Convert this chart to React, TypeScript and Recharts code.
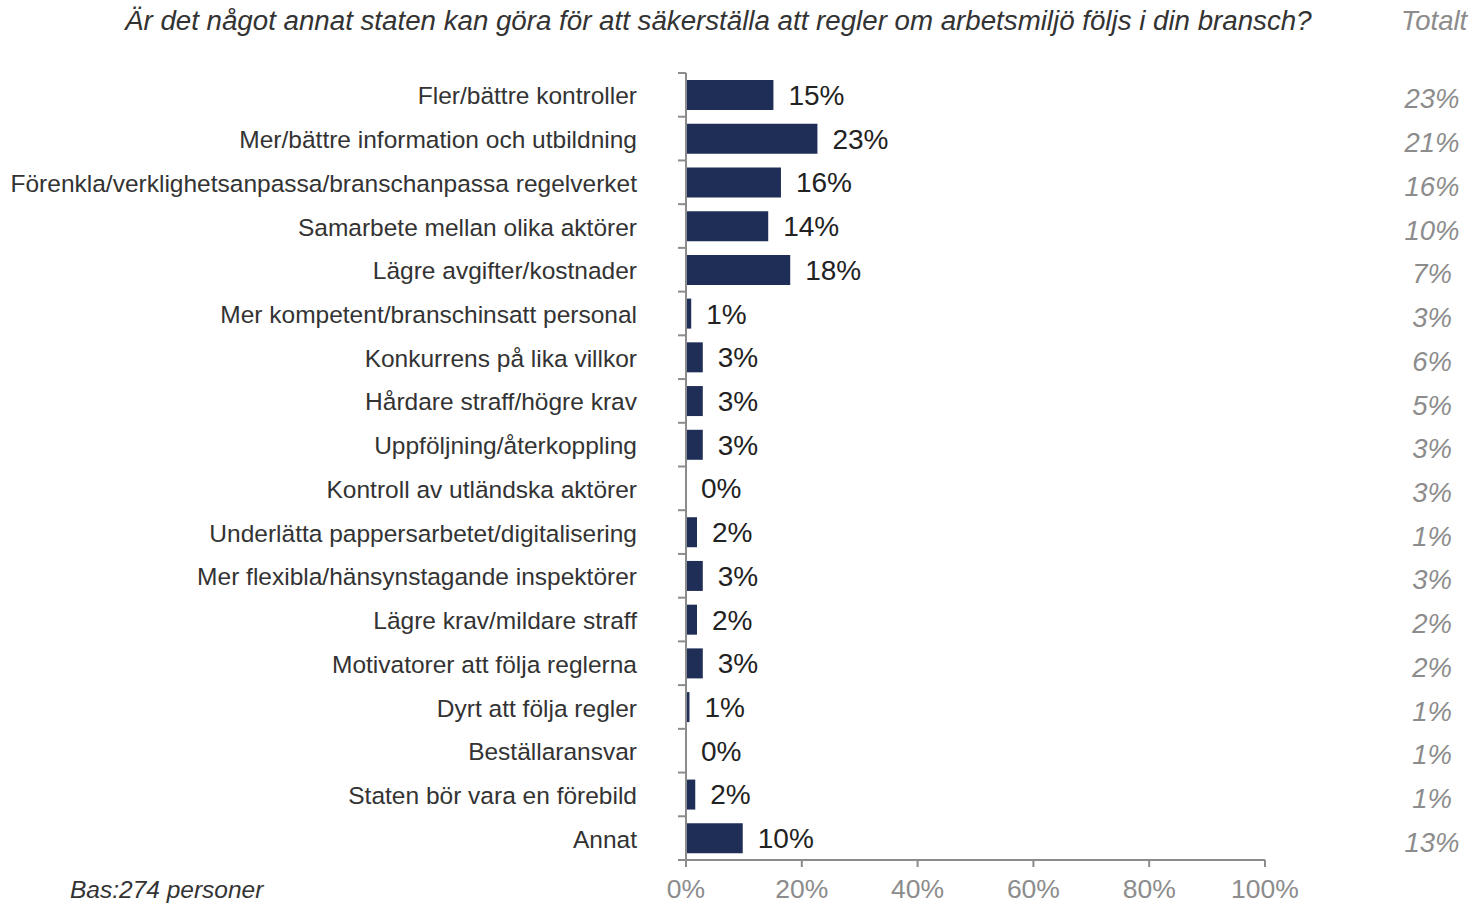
import React from 'react';
import { BarChart, Bar, XAxis, YAxis, LabelList } from 'recharts';

const categories = [
  'Fler/bättre kontroller',
  'Mer/bättre information och utbildning',
  'Förenkla/verklighetsanpassa/branschanpassa regelverket',
  'Samarbete mellan olika aktörer',
  'Lägre avgifter/kostnader',
  'Mer kompetent/branschinsatt personal',
  'Konkurrens på lika villkor',
  'Hårdare straff/högre krav',
  'Uppföljning/återkoppling',
  'Kontroll av utländska aktörer',
  'Underlätta pappersarbetet/digitalisering',
  'Mer flexibla/hänsynstagande inspektörer',
  'Lägre krav/mildare straff',
  'Motivatorer att följa reglerna',
  'Dyrt att följa regler',
  'Beställaransvar',
  'Staten bör vara en förebild',
  'Annat',
];

const values = [15.1, 22.7, 16.4, 14.2, 18.0, 0.9, 2.9, 2.9, 2.9, 0, 1.9, 2.9, 1.9, 2.9, 0.6, 0, 1.6, 9.8];

const totals = [23, 21, 16, 10, 7, 3, 6, 5, 3, 3, 1, 3, 2, 2, 1, 1, 1, 13];

const xTicks = [0, 20, 40, 60, 80, 100];

const W = 1484;
const H = 905;
const TOP = 73;
const BOTTOM = 45;
const band = (H - TOP - BOTTOM) / categories.length;
const FONT = '"Liberation Sans", Arial, sans-serif';

const data = categories.map((name, i) => ({
  name,
  value: values[i],
  label: `${Math.round(values[i])}%`,
  total: totals[i],
}));

function CategoryTick(props: any) {
  const { x, y, payload, index } = props;
  const top = y - band / 2;
  const bottom = y + band / 2;
  return (
    <g>
      <line x1={x - 8} x2={x} y1={top} y2={top} stroke="#8c8c8c" strokeWidth={2} />
      {index === categories.length - 1 && (
        <line x1={x - 8} x2={x} y1={bottom} y2={bottom} stroke="#8c8c8c" strokeWidth={2} />
      )}
      <text x={x - 49} y={y + 1} dy="0.35em" textAnchor="end" fontSize={24.5} fill="#333" fontFamily={FONT}>
        {payload.value}
      </text>
      <text
        x={x + 746}
        y={y + 4}
        dy="0.35em"
        textAnchor="middle"
        fontSize={27.5}
        fontStyle="italic"
        fill="#8c8c8c"
        fontFamily={FONT}
      >
        {totals[index]}%
      </text>
    </g>
  );
}

export default function App() {
  return (
    <div
      style={{
        position: 'fixed',
        top: 0,
        left: 0,
        width: W,
        height: H,
        overflow: 'hidden',
        fontFamily: FONT,
        background: '#fff',
      }}
    >
      <div
        style={{
          position: 'absolute',
          top: 5,
          left: 125,
          fontSize: 27.7,
          fontStyle: 'italic',
          color: '#333',
          whiteSpace: 'nowrap',
        }}
      >
        Är det något annat staten kan göra för att säkerställa att regler om arbetsmiljö följs i din bransch?
      </div>
      <div
        style={{
          position: 'absolute',
          top: 5,
          left: 1401,
          fontSize: 27.5,
          fontStyle: 'italic',
          color: '#8c8c8c',
        }}
      >
        Totalt
      </div>
      <div
        style={{
          position: 'absolute',
          top: 877,
          left: 70,
          fontSize: 24.5,
          lineHeight: '26px',
          fontStyle: 'italic',
          color: '#333',
          whiteSpace: 'nowrap',
        }}
      >
        Bas:274 personer
      </div>
      <BarChart
        width={W}
        height={H}
        data={data}
        layout="vertical"
        margin={{ top: TOP, right: 219, bottom: 0, left: 0 }}
        style={{ position: 'absolute', top: 0, left: 0 }}
      >
        <XAxis
          type="number"
          domain={[0, 100]}
          ticks={xTicks}
          tickFormatter={(v: number) => `${v}%`}
          axisLine={{ stroke: '#8c8c8c', strokeWidth: 2 }}
          tickLine={{ stroke: '#8c8c8c', strokeWidth: 2 }}
          tickSize={7}
          tickMargin={12}
          tick={{ fontSize: 26.5, fill: '#8c8c8c', fontFamily: FONT }}
          height={BOTTOM}
          interval={0}
        />
        <YAxis
          type="category"
          dataKey="name"
          width={686}
          axisLine={{ stroke: '#8c8c8c', strokeWidth: 2 }}
          tickLine={false}
          tickSize={0}
          tickMargin={0}
          interval={0}
          tick={<CategoryTick />}
        />
        <Bar dataKey="value" fill="#1f2e57" barSize={30} minPointSize={0.01} isAnimationActive={false}>
          <LabelList
            dataKey="label"
            position="right"
            offset={15}
            style={{ fontSize: 28, fill: '#222', fontFamily: FONT }}
          />
        </Bar>
      </BarChart>
    </div>
  );
}
